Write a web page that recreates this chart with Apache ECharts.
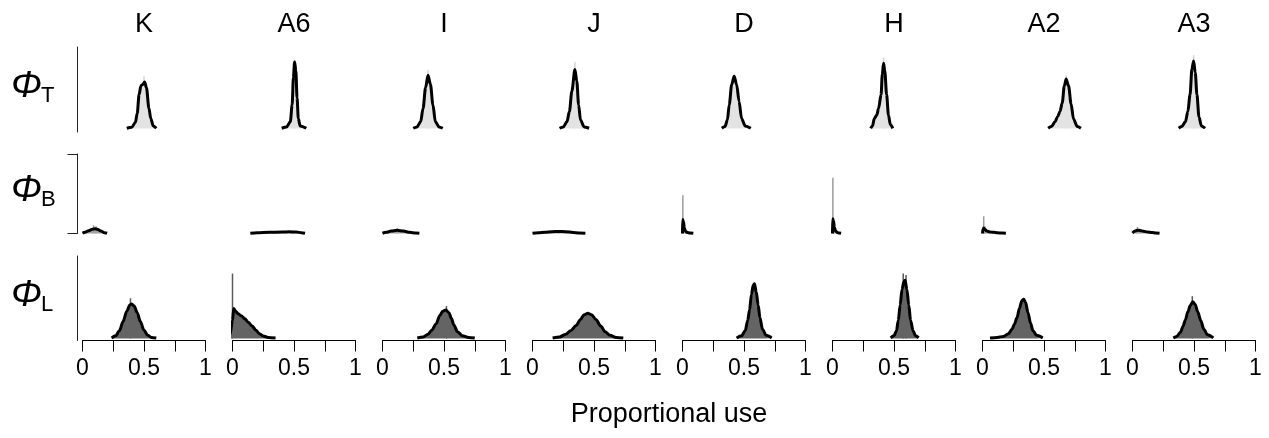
<!DOCTYPE html>
<html>
<head>
<meta charset="utf-8">
<script src="https://cdn.jsdelivr.net/npm/echarts@6.0.0/dist/echarts.min.js"></script>
<style>
  html, body { margin: 0; padding: 0; background: #fff; }
  #chart { width: 1269px; height: 438px; }
</style>
</head>
<body>
<div id="chart"></div>
<script>
const columns = ['K', 'A6', 'I', 'J', 'D', 'H', 'A2', 'A3'];
const rowSubs = ['T', 'B', 'L'];
const xTicks = [0, 0.25, 0.5, 0.75, 1];
const xLabels = ['0', '', '0.5', '', '1'];
const xTitle = 'Proportional use';

// density curves, [proportion, density], one list per column
const densityT = [
  [[0.36,0.1],[0.40,0.4],[0.43,1.8],[0.445,4.5],[0.46,10],[0.475,12.6],[0.49,13],[0.505,13.7],[0.52,12],[0.54,6],[0.555,3],[0.575,0.8],[0.6,0.1]],
  [[0.40,0.1],[0.44,0.5],[0.47,2],[0.485,7],[0.495,15],[0.505,19.6],[0.515,17],[0.525,9],[0.535,3],[0.55,0.8],[0.6,0.1]],
  [[0.25,0.1],[0.28,0.5],[0.31,2],[0.33,6],[0.35,12],[0.37,15.7],[0.39,13],[0.41,7],[0.43,2],[0.46,0.5],[0.49,0.1]],
  [[0.22,0.1],[0.25,0.5],[0.28,2],[0.30,5],[0.32,11],[0.345,17.4],[0.36,14],[0.375,7],[0.39,2.5],[0.42,0.5],[0.46,0.1]],
  [[0.32,0.1],[0.345,0.6],[0.365,2.5],[0.38,7],[0.40,13],[0.42,15.4],[0.44,13],[0.46,8],[0.48,3],[0.51,0.8],[0.555,0.1]],
  [[0.31,0.1],[0.325,0.8],[0.34,3],[0.36,4],[0.375,6],[0.395,10],[0.405,16],[0.415,19.2],[0.425,17],[0.44,10],[0.455,4],[0.47,1.2],[0.49,0.1]],
  [[0.534,0.1],[0.56,0.6],[0.59,2],[0.61,3.5],[0.63,5],[0.648,7.5],[0.665,12.5],[0.68,14.6],[0.70,12.5],[0.72,7.3],[0.74,2.8],[0.77,0.6],[0.80,0.1]],
  [[0.376,0.1],[0.40,0.6],[0.43,2],[0.45,5],[0.468,10],[0.483,17.5],[0.497,19.9],[0.51,16.5],[0.524,10],[0.54,3.5],[0.56,0.8],[0.59,0.1]]
];
const densityB = [
  [[0,0.5],[0.02,1.5],[0.05,3.5],[0.08,5.5],[0.10,6],[0.12,5.5],[0.15,3],[0.18,1],[0.2,0.3]],
  [[0.145,0.3],[0.2,1],[0.3,1.5],[0.4,1.8],[0.46,2.2],[0.52,1.8],[0.56,1],[0.59,0.3]],
  [[0,0.3],[0.03,1.5],[0.07,3],[0.12,4],[0.17,3],[0.22,1.5],[0.27,0.6],[0.30,0.2]],
  [[0,0.2],[0.05,0.8],[0.1,1.5],[0.16,2.2],[0.21,2.6],[0.27,2.2],[0.33,1.3],[0.38,0.6],[0.43,0.2]],
  [[0,0],[0.001,17.5],[0.008,15],[0.015,7],[0.025,2.5],[0.04,1.2],[0.06,0.6],[0.088,0.2]],
  [[0,0],[0.001,18.7],[0.008,16],[0.015,8],[0.025,3],[0.04,1.2],[0.055,0.5],[0.07,0.2]],
  [[0,0],[0.003,5],[0.01,7],[0.02,5],[0.035,3],[0.06,2],[0.09,1.5],[0.12,1],[0.16,0.5],[0.19,0.2]],
  [[0,0.5],[0.02,3],[0.04,4.2],[0.06,3.8],[0.09,2.8],[0.12,2],[0.16,1.2],[0.19,0.6],[0.22,0.2]]
];
const densityL = [
  [[0.237,0.1],[0.27,0.5],[0.30,1.5],[0.33,3.3],[0.36,5.3],[0.385,6.5],[0.40,6.7],[0.42,6.3],[0.445,5],[0.47,3.3],[0.50,1.6],[0.53,0.6],[0.56,0.2],[0.60,0.1]],
  [[-0.05,0.1],[-0.02,0.8],[0,3.5],[0.01,5.8],[0.025,5.3],[0.045,4.8],[0.07,4.4],[0.10,3.8],[0.13,3.1],[0.16,2.4],[0.19,1.6],[0.22,0.9],[0.25,0.45],[0.29,0.2],[0.35,0.1]],
  [[0.283,0.1],[0.33,0.3],[0.37,0.8],[0.40,1.6],[0.435,2.8],[0.465,4.4],[0.49,5.3],[0.515,5.5],[0.54,5],[0.56,3.9],[0.58,2.6],[0.61,1.3],[0.65,0.5],[0.70,0.2],[0.75,0.1]],
  [[0.164,0.1],[0.22,0.3],[0.27,0.8],[0.31,1.5],[0.355,2.5],[0.39,3.7],[0.42,4.6],[0.45,4.9],[0.48,4.6],[0.515,3.7],[0.555,2.4],[0.59,1.3],[0.63,0.6],[0.68,0.2],[0.738,0.1]],
  [[0.44,0.1],[0.48,0.5],[0.51,1.5],[0.53,3.5],[0.545,5.5],[0.56,8.5],[0.575,10.3],[0.585,10.6],[0.60,9],[0.615,6.5],[0.63,4],[0.65,1.8],[0.68,0.6],[0.725,0.1]],
  [[0.473,0.1],[0.50,0.5],[0.52,1.5],[0.535,3.5],[0.55,6.5],[0.565,9.5],[0.58,11],[0.59,11.3],[0.605,9.5],[0.62,6.5],[0.635,3.5],[0.655,1.5],[0.675,0.5],[0.70,0.1]],
  [[0.061,0.1],[0.12,0.2],[0.17,0.4],[0.21,0.9],[0.24,1.8],[0.26,2.8],[0.28,4],[0.30,5.8],[0.32,7.3],[0.335,7.6],[0.35,7],[0.37,5],[0.39,3],[0.41,1.5],[0.44,0.6],[0.49,0.1]],
  [[0.332,0.1],[0.36,0.4],[0.39,1.2],[0.41,2.3],[0.43,3.6],[0.45,5.2],[0.47,6.4],[0.49,7.1],[0.51,6.6],[0.53,5.2],[0.555,3.5],[0.58,1.8],[0.61,0.7],[0.657,0.1]]
];

// histogram bins that stick out above the density line
const spikesT = [[[0.5,15.4]], [[0.505,20.3]], [[0.37,17.2]], [[0.345,19.6]], [], [[0.415,21]], [[0.68,15.7]], [[0.497,21.6]]];
const spikesB = [[[0.09,10.4],[0.11,9]], [[0.48,3.2]], [[0.12,6.7]], [[0.21,3.7]], [[0.003,48]], [[0.003,70]], [[0.01,21.7],[0.02,9]], [[0.04,8.3],[0.06,6]]];
const spikesL = [[[0.39,7.8]], [[0,12.6]], [[0.52,6.3]], [], [], [[0.575,12.6],[0.598,12.3]], [], [[0.486,8.2]]];

const FONT = "'Liberation Sans', Arial, sans-serif";

const rows = [
  { dens: densityT, spikes: spikesT, fill: '#e3e3e3', spike: '#d6d6d6', min: -1, max: 24, top: 47, height: 85, labelY: 87 },
  { dens: densityB, spikes: spikesB, fill: '#a4a4a4', spike: '#9c9c9c', min: 0, max: 100, top: 154, height: 79.5, labelY: 191 },
  { dens: densityL, spikes: spikesL, fill: '#646464', spike: '#5a5a5a', min: -0.4, max: 16, top: 256, height: 84.5, labelY: 296 }
];

const grid = [], xAxis = [], yAxis = [], series = [];

rows.forEach((row, r) => {
  columns.forEach((name, c) => {
    const g = grid.length;
    grid.push({ left: 82.5 + 150 * c, width: 123, top: row.top, height: row.height });
    xAxis.push({
      gridIndex: g, type: 'value', min: 0, max: 1, interval: 0.25,
      show: r === 2,
      axisLine: { onZero: false, lineStyle: { color: '#000', width: 1 } },
      axisTick: { length: 11, lineStyle: { color: '#000', width: 1 } },
      axisLabel: {
        margin: 17, fontSize: 23, color: '#000', fontFamily: FONT,
        showMinLabel: true, showMaxLabel: true,
        formatter: v => xLabels[xTicks.indexOf(Math.round(v * 100) / 100)] || ''
      },
      splitLine: { show: false }
    });
    yAxis.push({
      gridIndex: g, type: 'value', min: row.min, max: row.max,
      interval: r === 1 ? 100 : undefined,
      show: c === 0, offset: 5,
      axisLine: { show: true, onZero: false, lineStyle: { color: '#222', width: 1 } },
      axisTick: { show: r === 1, length: 10, lineStyle: { color: '#222', width: 1 } },
      axisLabel: { show: false },
      splitLine: { show: false }
    });
    series.push({
      type: 'bar', xAxisIndex: g, yAxisIndex: g,
      data: row.spikes[c], barWidth: 1.5, silent: true,
      itemStyle: { color: row.spike }
    });
    series.push({
      type: 'line', xAxisIndex: g, yAxisIndex: g,
      data: row.dens[c], smooth: 0.3, smoothMonotone: 'x',
      showSymbol: false, clip: false, silent: true,
      lineStyle: { color: '#000', width: 3 },
      areaStyle: { color: row.fill, opacity: 1 }
    });
  });
});

const graphic = [];
columns.forEach((name, c) => {
  graphic.push({
    type: 'text', x: 144 + 150 * c, y: 25,
    style: { text: name, font: '27px ' + FONT, fill: '#000', textAlign: 'center', textVerticalAlign: 'middle' }
  });
});
rows.forEach((row, r) => {
  graphic.push({
    type: 'text', x: 11, y: row.labelY,
    style: { text: '\u03A6', font: 'italic 37px ' + FONT, fill: '#000', textAlign: 'left', textVerticalAlign: 'middle' }
  });
  graphic.push({
    type: 'text', x: 41, y: row.labelY + 9,
    style: { text: rowSubs[r], font: '22px ' + FONT, fill: '#000', textAlign: 'left', textVerticalAlign: 'middle' }
  });
});
graphic.push({
  type: 'text', x: 669, y: 415,
  style: { text: xTitle, font: '27px ' + FONT, fill: '#000', textAlign: 'center', textVerticalAlign: 'middle' }
});

const chart = echarts.init(document.getElementById('chart'), null, { renderer: 'canvas' });
chart.setOption({
  animation: false,
  backgroundColor: '#fff',
  grid, xAxis, yAxis, series, graphic
});
</script>
</body>
</html>
